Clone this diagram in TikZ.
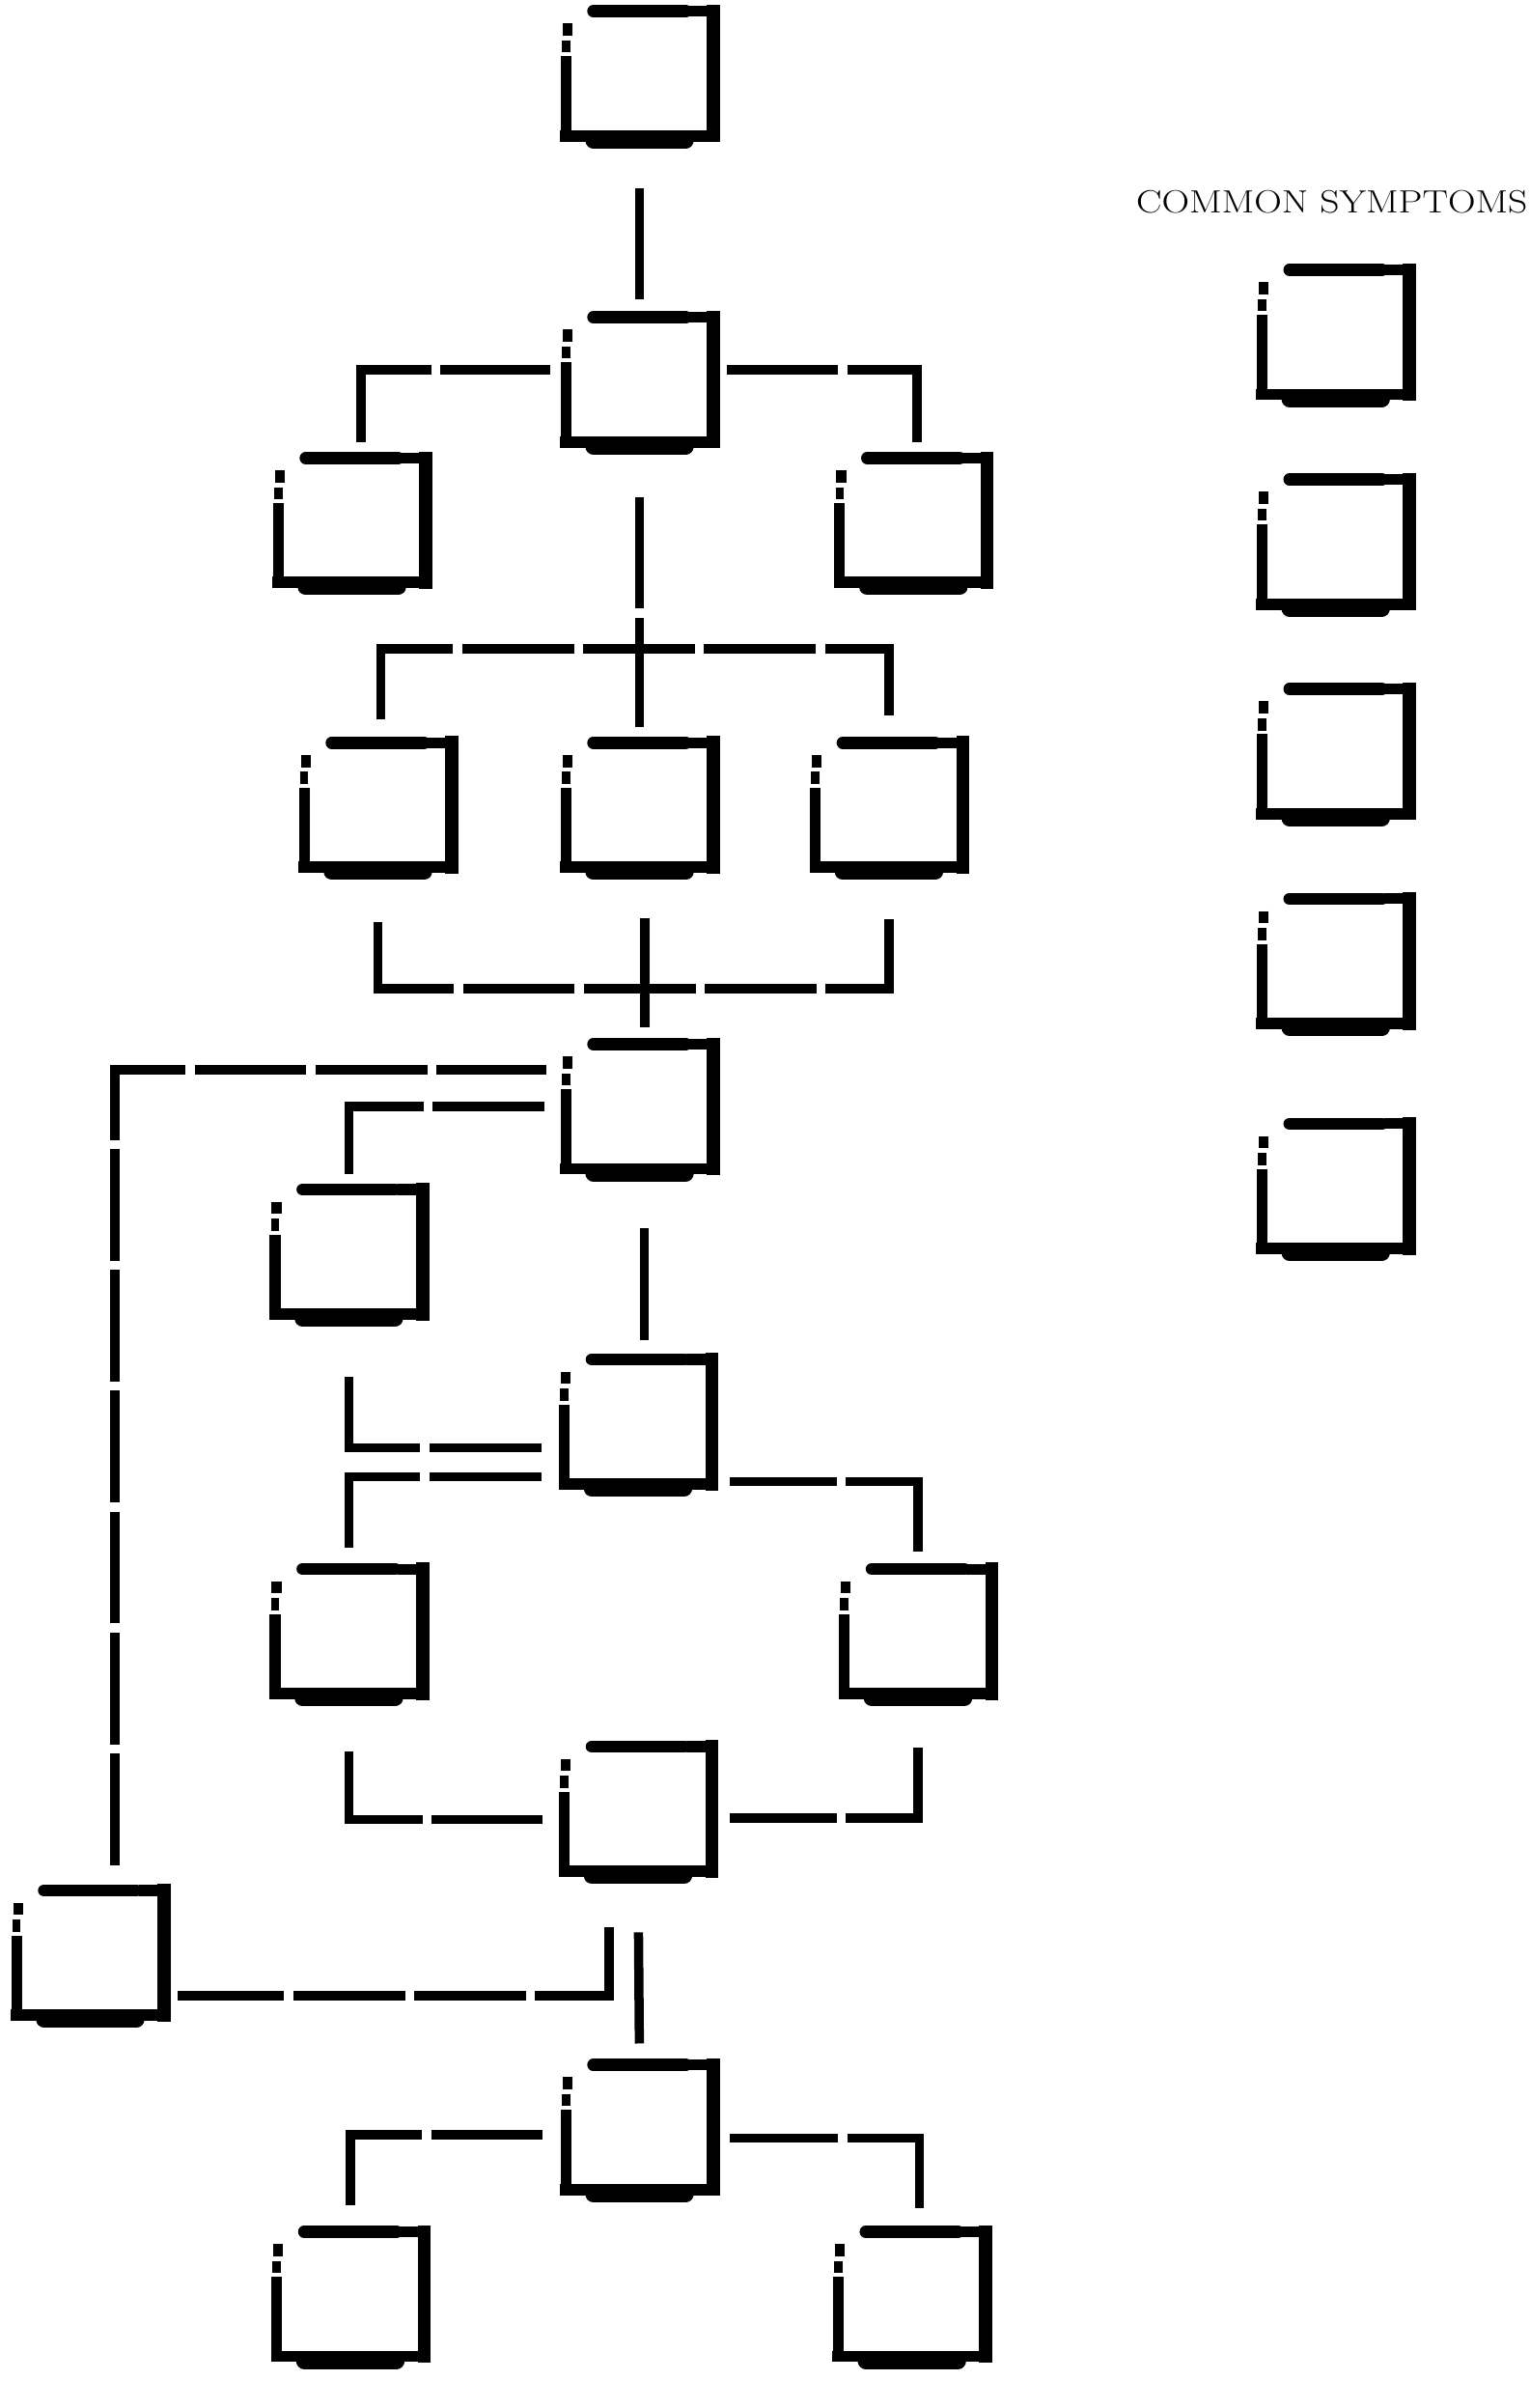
\documentclass[tikz,border=0pt]{standalone}
\usepackage{graphicx}
\usepackage{tikz}

\tikzset{
  boxrim/.style={draw, line cap=rect},
  boxbit/.style={draw, line cap=butt},
  boxbar/.style={draw, line cap=round},
  stencil/.style={minimum width=96pt, minimum height=81pt, inner sep=0pt,
    append after command={
      ([yshift=-33pt]\tikzlastnode.north west) edge[boxrim, line width=7pt] (\tikzlastnode.south west)
      ([xshift=1pt,yshift=-8pt]\tikzlastnode.north west) edge[boxbit, line width=6.5pt] ([xshift=1pt,yshift=-16pt]\tikzlastnode.north west)
      ([yshift=-19pt]\tikzlastnode.north west) edge[boxbit, line width=5.5pt] ([yshift=-27pt]\tikzlastnode.north west)
      (\tikzlastnode.south west) edge[boxrim, line width=7.5pt] (\tikzlastnode.south east)
      (\tikzlastnode.south east) edge[boxrim, line width=8.5pt] (\tikzlastnode.north east)
      (\tikzlastnode.north east) edge[boxrim, line width=7pt] ([xshift=-13pt]\tikzlastnode.north east)
      ([xshift=18pt]\tikzlastnode.north west) edge[boxbar, line width=8pt] ([xshift=-18pt]\tikzlastnode.north east)
      ([xshift=18pt,yshift=-3pt]\tikzlastnode.south west) edge[boxbar, line width=10.5pt] ([xshift=-18pt,yshift=-3pt]\tikzlastnode.south east)
    }},
  link/.style={draw, line width=6pt},
  linkrun/.style={link, dash pattern=on 73pt off 6pt},
  linkelbow/.style={link, dash pattern=on 93pt off 6pt on 73pt off 6pt on 73pt off 6pt on 73pt off 6pt on 73pt off 6pt},
  linktee/.style={link, dash pattern=on 93pt off 6pt on 73pt off 6pt on 73pt off 6pt on 73pt off 6pt on 120pt off 6pt}
}

\begin{document}
\begin{tikzpicture}[x=1pt, y=-1pt]
    % Fix the page size
    \useasboundingbox (0,0) rectangle (1000,1573.5);

    % Draw the tree boxes
    \node[stencil] (n1) at (418,48) {};
    \node[stencil] (n2) at (418,248) {};
    \node[stencil] (n2l) at (230,340) {};
    \node[stencil] (n2r) at (597,340) {};
    \node[stencil] (n3l) at (247,526) {};
    \node[stencil] (n3m) at (418,526) {};
    \node[stencil] (n3r) at (581,526) {};
    \node[stencil] (n4) at (418,723) {};
    \node[stencil] (n4l) at (228,818) {};
    \node[stencil] (n5) at (417,929) {};
    \node[stencil] (n5l) at (228,1066) {};
    \node[stencil] (n5r) at (600,1066) {};
    \node[stencil] (n6) at (417,1182) {};
    \node[stencil] (side) at (59,1276) {};
    \node[stencil] (n7) at (418,1390) {};
    \node[stencil] (n7l) at (229,1499) {};
    \node[stencil] (n7r) at (596,1499) {};

    % Draw the symptom boxes
    \node (symtitle) at (870.5,132) {\fontsize{21}{25}\selectfont\scalebox{1.19}[1]{COMMON SYMPTOMS}};
    \node[stencil] (sym1) at (873,217) {};
    \node[stencil] (sym2) at (873,354) {};
    \node[stencil] (sym3) at (873,491) {};
    \node[stencil] (sym4) at (873,628) {};
    \node[stencil] (sym5) at (873,775) {};

    % Add the connectors
    \draw[linkrun, shorten <=34.5pt, shorten >=11.5pt] (n1.south) -- (n2.north);
    \draw[linkelbow, shorten <=10.5pt, shorten >=10pt] ([xshift=6pt]n2l.north) |- ([yshift=6.5pt]n2.west);
    \draw[linkelbow, shorten <=10.5pt, shorten >=7pt] ([xshift=2.5pt]n2r.north) |- ([yshift=6.5pt]n2.east);

    \coordinate (tee3) at (418,424);
    \draw[linkrun, shorten <=36pt, shorten >=10.5pt] (n2.south) -- (n3m.north);
    \draw[linktee, shorten <=15.5pt, shorten >=17.5pt] ([xshift=2pt]n3l.north) |- (tee3) -| (n3r.north);

    \coordinate (tee4) at (418,646);
    \draw[linktee, shorten <=36pt, shorten >=34pt] (n3l.south) |- (tee4) -| (n3r.south);
    \draw[linkrun, shorten <=33.5pt, shorten >=11pt] ([xshift=3.5pt]n3m.south) -- ([xshift=3.5pt]n4.north);

    \draw[link, dash pattern=on 73pt off 6pt on 73pt off 6pt on 73pt off 6pt on 73pt off 6pt on 73pt off 6pt on 73pt off 6pt on 92pt off 6pt on 73pt off 6pt on 73pt off 6pt on 80pt off 6pt,
          shorten <=16.5pt, shorten >=13pt] ([xshift=16pt]side.north) |- ([yshift=24pt]n4.west);
    \draw[linkelbow, shorten <=10pt, shorten >=13pt] (n4l.north) |- (n4.west);
    \draw[linkrun, shorten <=39pt, shorten >=12.5pt] ([xshift=3pt]n4.south) -- ([xshift=4pt]n5.north);

    \draw[linkelbow, shorten <=41pt, shorten >=14pt] (n4l.south) |- ([yshift=-17pt]n5.west);
    \draw[linkelbow, shorten <=14pt, shorten >=14pt] (n5l.north) |- ([yshift=-36pt]n5.west);
    \draw[linkelbow, shorten <=11.5pt, shorten >=11.5pt] (n5r.north) |- ([yshift=-39pt]n5.east);

    \draw[linkelbow, shorten <=37.5pt, shorten >=14pt] (n5l.south) |- ([yshift=-7pt]n6.west);
    \draw[linkelbow, shorten <=35.5pt, shorten >=11.5pt] (n5r.south) |- ([yshift=-6pt]n6.east);

    \draw[linkelbow, shorten <=36.5pt, shorten >=9pt] ([xshift=-19pt]n6.south) |- ([yshift=-28pt]side.east);
    \draw[linkrun, shorten <=40pt, shorten >=14pt] (n6.south) -- (n7.north);

    \draw[linkelbow, shorten <=17pt, shorten >=15pt] (n7l.north) |- ([yshift=-5pt]n7.west);
    \draw[linkelbow, shorten <=15.5pt, shorten >=10.5pt] ([xshift=5pt]n7r.north) |- ([yshift=-7pt]n7.east);
\end{tikzpicture}
\end{document}
